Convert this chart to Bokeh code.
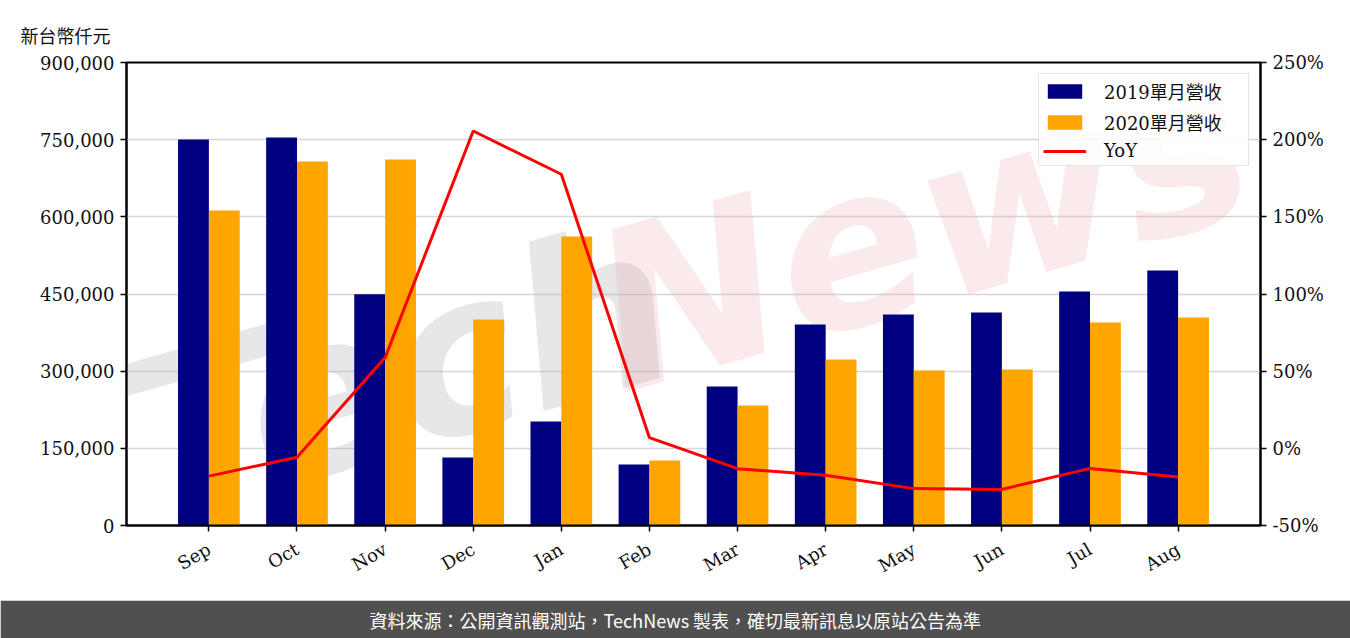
import math
from bokeh.plotting import figure
from bokeh.layouts import column
from bokeh.models import (Range1d, LinearAxis, FixedTicker, NumeralTickFormatter,
                          PrintfTickFormatter, Legend, LegendItem, ColumnDataSource)
from bokeh.core.properties import value
from bokeh.embed import file_html
from bokeh.resources import INLINE

months = ["Sep", "Oct", "Nov", "Dec", "Jan", "Feb", "Mar", "Apr", "May", "Jun", "Jul", "Aug"]
rev_2019 = [750500, 754200, 449700, 132200, 202200, 118600, 270200, 390700, 410200, 414000, 454900, 495700]
rev_2020 = [612300, 707600, 711400, 400400, 561800, 126400, 233300, 322700, 301300, 303200, 394600, 404300]
yoy = [-18.0, -5.8, 58.8, 205.6, 177.6, 6.9, -13.2, -17.5, -26.1, -26.6, -13.0, -18.6]
left_ticks = [0, 150000, 300000, 450000, 600000, 750000, 900000]
right_ticks = [-50, 0, 50, 100, 150, 200, 250]
series_names = ["2019單月營收", "2020單月營收", "YoY"]
unit_label = "新台幣仟元"
footer_text = "資料來源：公開資訊觀測站，TechNews 製表，確切最新訊息以原站公告為準"

SERIF = "DejaVu Serif, Noto Sans CJK TC"
W = 1350
H_MAIN = 600
H_FOOT = 38

idx = list(range(len(months)))
bar_w = 0.35
src = ColumnDataSource(dict(
    x19=[i - bar_w / 2 for i in idx],
    x20=[i + bar_w / 2 for i in idx],
    x=idx, r19=rev_2019, r20=rev_2020, yoy=yoy))

p = figure(width=W, height=H_MAIN, output_backend="svg", toolbar_location=None,
           x_range=Range1d(-0.935, 11.935), y_range=Range1d(0, 900000),
           min_border_left=126, min_border_right=90, min_border_top=62, min_border_bottom=75)
p.extra_y_ranges = {"pct": Range1d(-50, 250)}
p.background_fill_color = "white"
p.border_fill_color = "white"
p.outline_line_color = "black"
p.outline_line_width = 2
p.outline_line_alpha = 1

# unit label as left-aligned title
p.title.text = unit_label
p.title.align = "left"
p.title.offset = -106
p.title.standoff = 30
p.title.text_font = "Noto Sans CJK TC"
p.title.text_font_size = "18px"
p.title.text_font_style = "normal"
p.title.text_color = "#111111"

# watermark
p.text(x=[-0.89], y=[145800], text=["Tech"], angle=math.radians(16),
       text_font=value("DejaVu Sans"), text_font_style="bold italic", text_font_size="220px",
       text_color="#b0b0b0", text_alpha=0.3, text_baseline="alphabetic")
p.text(x=[4.45], y=[398500], text=["News"], angle=math.radians(16),
       text_font=value("DejaVu Sans"), text_font_style="bold italic", text_font_size="220px",
       text_color="#e8a0a8", text_alpha=0.22, text_baseline="alphabetic")

b19 = p.vbar(x="x19", top="r19", width=bar_w, source=src, fill_color="#000080", line_color=None)
b20 = p.vbar(x="x20", top="r20", width=bar_w, source=src, fill_color="#FFA500", line_color=None)
ln = p.line(x="x", y="yoy", source=src, line_color="red", line_width=3, y_range_name="pct")

# axes
p.xaxis.ticker = FixedTicker(ticks=idx)
p.xaxis.major_label_overrides = {i: m for i, m in enumerate(months)}
p.xaxis.major_label_orientation = math.radians(30)
p.yaxis.ticker = FixedTicker(ticks=left_ticks)
p.yaxis.formatter = NumeralTickFormatter(format="0,0")

ra = LinearAxis(y_range_name="pct", ticker=FixedTicker(ticks=right_ticks),
                formatter=PrintfTickFormatter(format="%d%%"))
p.add_layout(ra, "right")

for ax in [p.xaxis[0], p.yaxis[0], ra]:
    ax.axis_line_color = "black"
    ax.axis_line_width = 2
    ax.major_tick_line_color = "black"
    ax.major_tick_line_width = 1.5
    ax.major_tick_out = 6
    ax.major_tick_in = 0
    ax.minor_tick_line_color = None
    ax.major_label_text_font = SERIF
    ax.major_label_text_font_size = "18px"
    ax.major_label_text_color = "#111111"
    ax.major_label_standoff = 6
p.xaxis.major_label_standoff = 16

p.xgrid.grid_line_color = None
p.ygrid.grid_line_color = "#d6d6d6"
p.ygrid.grid_line_width = 1.5
p.ygrid.ticker = FixedTicker(ticks=left_ticks)

legend = Legend(items=[LegendItem(label=series_names[0], renderers=[b19]),
                       LegendItem(label=series_names[1], renderers=[b20]),
                       LegendItem(label=series_names[2], renderers=[ln])],
                location="top_right")
legend.label_text_font = SERIF
legend.label_text_font_size = "18px"
legend.label_text_color = "#111111"
legend.glyph_width = 43
legend.glyph_height = 18
legend.label_height = 18
legend.label_width = 140
legend.spacing = 5
legend.padding = 4
legend.margin = 11
legend.label_standoff = 18
legend.border_line_color = "#cccccc"
legend.border_line_width = 1.5
legend.background_fill_alpha = 0.85
p.add_layout(legend)

# footer band
f = figure(width=W, height=H_FOOT, output_backend="svg", toolbar_location=None,
           x_range=Range1d(0, 1), y_range=Range1d(0, 1),
           min_border_left=126, min_border_right=90, min_border_top=3, min_border_bottom=3)
f.axis.visible = False
f.grid.visible = False
f.outline_line_color = "#505050"
f.outline_line_width = 3
f.background_fill_color = "#505050"
f.border_fill_color = "#505050"
f.text(x=[0.484], y=[0.5], text=[footer_text],
       text_align="center", text_baseline="middle", text_color="white",
       text_font=value("Noto Sans CJK TC"), text_font_size="18px")

lay = column(p, f, spacing=0)
open("out.html", "w").write(file_html(lay, INLINE))
